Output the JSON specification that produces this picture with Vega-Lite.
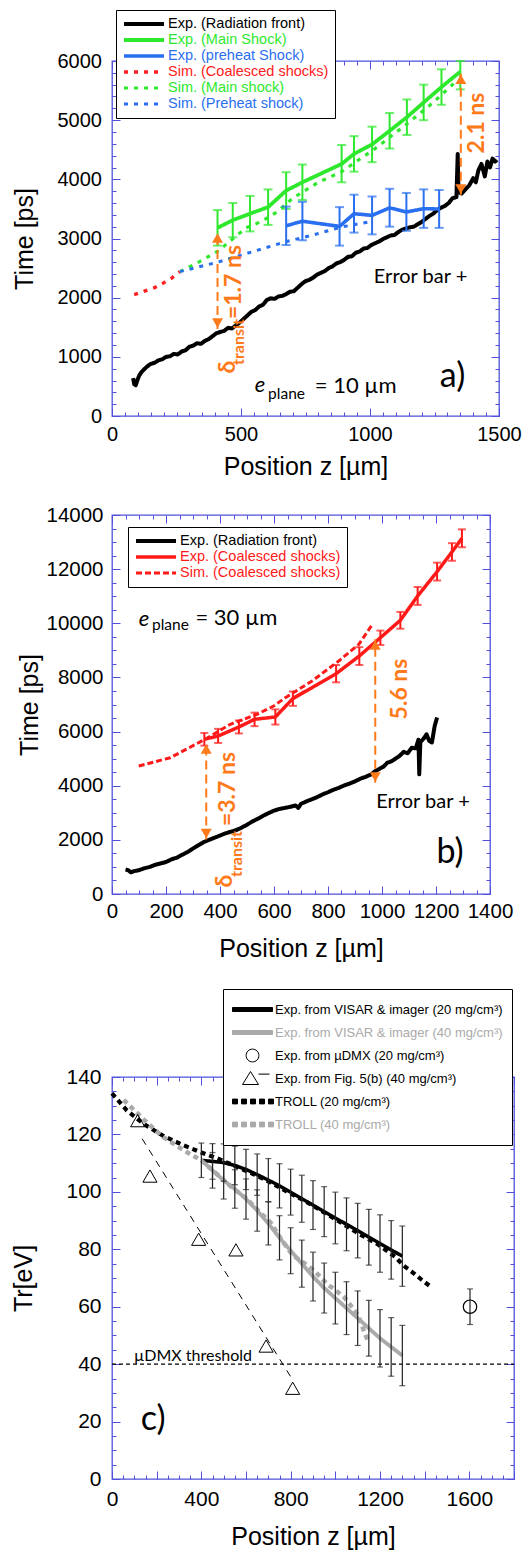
{
"$schema": "https://vega.github.io/schema/vega-lite/v6.json",
"background": "white",
"padding": {"left": 10, "top": 8, "right": 0, "bottom": 0},
"autosize": {"type": "pad"},
"spacing": 24,
"resolve": {"scale": {"color": "independent", "strokeDash": "independent", "strokeWidth": "independent"}},
"config": {
  "view": {"stroke": "#5050dd", "strokeWidth": 1.3},
  "axis": {"labelFont": "Liberation Sans", "titleFont": "Liberation Sans", "labelColor": "black", "titleColor": "black", "titleFontWeight": "normal", "tickColor": "#5050dd", "tickWidth": 1, "domain": false, "grid": false, "labelFlush": false, "labelOverlap": false, "labelFontSize": 20, "titleFontSize": 25}
},
"vconcat": [
{
  "width": 387, "height": 355,
  "encoding": {
    "x": {"field": "z", "type": "quantitative", "scale": {"domain": [0, 1500], "nice": false}, "axis": null},
    "y": {"field": "t", "type": "quantitative", "scale": {"domain": [0, 6000], "nice": false}, "axis": null}
  },
  "resolve": {"axis": {"x": "independent", "y": "independent"}},
  "layer": [
    {
      "data": {"values": [
        {"s":"Exp. (Radiation front)","z":82,"t":640},{"s":"Exp. (Radiation front)","z":86,"t":540},{"s":"Exp. (Radiation front)","z":92,"t":520},{"s":"Exp. (Radiation front)","z":98,"t":600},{"s":"Exp. (Radiation front)","z":105,"t":680},{"s":"Exp. (Radiation front)","z":114,"t":740},{"s":"Exp. (Radiation front)","z":125,"t":790},{"s":"Exp. (Radiation front)","z":137,"t":840},{"s":"Exp. (Radiation front)","z":150,"t":880},{"s":"Exp. (Radiation front)","z":165,"t":900},{"s":"Exp. (Radiation front)","z":180,"t":940},{"s":"Exp. (Radiation front)","z":195,"t":960},{"s":"Exp. (Radiation front)","z":210,"t":1000},{"s":"Exp. (Radiation front)","z":225,"t":1010},{"s":"Exp. (Radiation front)","z":240,"t":1050},{"s":"Exp. (Radiation front)","z":255,"t":1040},{"s":"Exp. (Radiation front)","z":270,"t":1090},{"s":"Exp. (Radiation front)","z":285,"t":1110},{"s":"Exp. (Radiation front)","z":300,"t":1170},{"s":"Exp. (Radiation front)","z":315,"t":1190},{"s":"Exp. (Radiation front)","z":330,"t":1230},{"s":"Exp. (Radiation front)","z":345,"t":1220},{"s":"Exp. (Radiation front)","z":360,"t":1270},{"s":"Exp. (Radiation front)","z":375,"t":1300},{"s":"Exp. (Radiation front)","z":390,"t":1350},{"s":"Exp. (Radiation front)","z":405,"t":1400},{"s":"Exp. (Radiation front)","z":420,"t":1420},{"s":"Exp. (Radiation front)","z":435,"t":1440},{"s":"Exp. (Radiation front)","z":450,"t":1490},{"s":"Exp. (Radiation front)","z":465,"t":1480},{"s":"Exp. (Radiation front)","z":480,"t":1530},{"s":"Exp. (Radiation front)","z":495,"t":1580},{"s":"Exp. (Radiation front)","z":510,"t":1640},{"s":"Exp. (Radiation front)","z":525,"t":1700},{"s":"Exp. (Radiation front)","z":540,"t":1760},{"s":"Exp. (Radiation front)","z":555,"t":1790},{"s":"Exp. (Radiation front)","z":570,"t":1850},{"s":"Exp. (Radiation front)","z":585,"t":1880},{"s":"Exp. (Radiation front)","z":600,"t":1960},{"s":"Exp. (Radiation front)","z":615,"t":1990},{"s":"Exp. (Radiation front)","z":630,"t":1980},{"s":"Exp. (Radiation front)","z":645,"t":2020},{"s":"Exp. (Radiation front)","z":660,"t":2030},{"s":"Exp. (Radiation front)","z":675,"t":2060},{"s":"Exp. (Radiation front)","z":690,"t":2100},{"s":"Exp. (Radiation front)","z":705,"t":2110},{"s":"Exp. (Radiation front)","z":720,"t":2170},{"s":"Exp. (Radiation front)","z":735,"t":2230},{"s":"Exp. (Radiation front)","z":750,"t":2280},{"s":"Exp. (Radiation front)","z":765,"t":2300},{"s":"Exp. (Radiation front)","z":780,"t":2340},{"s":"Exp. (Radiation front)","z":795,"t":2390},{"s":"Exp. (Radiation front)","z":810,"t":2420},{"s":"Exp. (Radiation front)","z":825,"t":2450},{"s":"Exp. (Radiation front)","z":840,"t":2500},{"s":"Exp. (Radiation front)","z":855,"t":2530},{"s":"Exp. (Radiation front)","z":870,"t":2580},{"s":"Exp. (Radiation front)","z":885,"t":2600},{"s":"Exp. (Radiation front)","z":900,"t":2640},{"s":"Exp. (Radiation front)","z":915,"t":2690},{"s":"Exp. (Radiation front)","z":930,"t":2700},{"s":"Exp. (Radiation front)","z":945,"t":2760},{"s":"Exp. (Radiation front)","z":960,"t":2780},{"s":"Exp. (Radiation front)","z":975,"t":2830},{"s":"Exp. (Radiation front)","z":990,"t":2840},{"s":"Exp. (Radiation front)","z":1005,"t":2890},{"s":"Exp. (Radiation front)","z":1020,"t":2920},{"s":"Exp. (Radiation front)","z":1035,"t":2950},{"s":"Exp. (Radiation front)","z":1050,"t":2990},{"s":"Exp. (Radiation front)","z":1065,"t":3020},{"s":"Exp. (Radiation front)","z":1080,"t":3050},{"s":"Exp. (Radiation front)","z":1095,"t":3060},{"s":"Exp. (Radiation front)","z":1110,"t":3110},{"s":"Exp. (Radiation front)","z":1125,"t":3150},{"s":"Exp. (Radiation front)","z":1140,"t":3170},{"s":"Exp. (Radiation front)","z":1155,"t":3190},{"s":"Exp. (Radiation front)","z":1170,"t":3200},{"s":"Exp. (Radiation front)","z":1185,"t":3240},{"s":"Exp. (Radiation front)","z":1200,"t":3280},{"s":"Exp. (Radiation front)","z":1215,"t":3330},{"s":"Exp. (Radiation front)","z":1230,"t":3380},{"s":"Exp. (Radiation front)","z":1245,"t":3420},{"s":"Exp. (Radiation front)","z":1260,"t":3480},{"s":"Exp. (Radiation front)","z":1275,"t":3520},{"s":"Exp. (Radiation front)","z":1290,"t":3550},{"s":"Exp. (Radiation front)","z":1305,"t":3600},{"s":"Exp. (Radiation front)","z":1320,"t":3680},{"s":"Exp. (Radiation front)","z":1335,"t":3700},{"s":"Exp. (Radiation front)","z":1340,"t":4430},{"s":"Exp. (Radiation front)","z":1343,"t":3780},{"s":"Exp. (Radiation front)","z":1355,"t":3760},{"s":"Exp. (Radiation front)","z":1370,"t":3830},{"s":"Exp. (Radiation front)","z":1385,"t":3900},{"s":"Exp. (Radiation front)","z":1400,"t":4020},{"s":"Exp. (Radiation front)","z":1410,"t":3950},{"s":"Exp. (Radiation front)","z":1420,"t":4150},{"s":"Exp. (Radiation front)","z":1432,"t":4260},{"s":"Exp. (Radiation front)","z":1445,"t":4050},{"s":"Exp. (Radiation front)","z":1455,"t":4300},{"s":"Exp. (Radiation front)","z":1465,"t":4200},{"s":"Exp. (Radiation front)","z":1475,"t":4350},{"s":"Exp. (Radiation front)","z":1485,"t":4300},{"s":"Exp. (Radiation front)","z":1492,"t":4330},
        {"s":"Exp. (Main Shock)","z":409,"t":3180},{"s":"Exp. (Main Shock)","z":468,"t":3310},{"s":"Exp. (Main Shock)","z":535,"t":3420},{"s":"Exp. (Main Shock)","z":605,"t":3530},{"s":"Exp. (Main Shock)","z":675,"t":3810},{"s":"Exp. (Main Shock)","z":738,"t":3950},{"s":"Exp. (Main Shock)","z":890,"t":4260},{"s":"Exp. (Main Shock)","z":938,"t":4430},{"s":"Exp. (Main Shock)","z":1008,"t":4590},{"s":"Exp. (Main Shock)","z":1076,"t":4820},{"s":"Exp. (Main Shock)","z":1143,"t":5050},{"s":"Exp. (Main Shock)","z":1208,"t":5300},{"s":"Exp. (Main Shock)","z":1277,"t":5560},{"s":"Exp. (Main Shock)","z":1350,"t":5820},
        {"s":"Exp. (preheat Shock)","z":675,"t":3215},{"s":"Exp. (preheat Shock)","z":738,"t":3292},{"s":"Exp. (preheat Shock)","z":882,"t":3205},{"s":"Exp. (preheat Shock)","z":938,"t":3419},{"s":"Exp. (preheat Shock)","z":1008,"t":3391},{"s":"Exp. (preheat Shock)","z":1076,"t":3518},{"s":"Exp. (preheat Shock)","z":1141,"t":3448},{"s":"Exp. (preheat Shock)","z":1208,"t":3504},{"s":"Exp. (preheat Shock)","z":1268,"t":3498},
        {"s":"Sim. (Coalesced shocks)","z":86,"t":2050},{"s":"Sim. (Coalesced shocks)","z":126,"t":2112},{"s":"Sim. (Coalesced shocks)","z":166,"t":2170},{"s":"Sim. (Coalesced shocks)","z":200,"t":2250},{"s":"Sim. (Coalesced shocks)","z":231,"t":2330},{"s":"Sim. (Coalesced shocks)","z":263,"t":2440},
        {"s":"Sim. (Main shock)","z":263,"t":2440},{"s":"Sim. (Main shock)","z":340,"t":2610},{"s":"Sim. (Main shock)","z":412,"t":2790},{"s":"Sim. (Main shock)","z":470,"t":3000},{"s":"Sim. (Main shock)","z":520,"t":3180},{"s":"Sim. (Main shock)","z":580,"t":3290},{"s":"Sim. (Main shock)","z":640,"t":3450},{"s":"Sim. (Main shock)","z":700,"t":3680},{"s":"Sim. (Main shock)","z":800,"t":3950},{"s":"Sim. (Main shock)","z":890,"t":4130},{"s":"Sim. (Main shock)","z":1020,"t":4520},{"s":"Sim. (Main shock)","z":1135,"t":4910},{"s":"Sim. (Main shock)","z":1240,"t":5280},{"s":"Sim. (Main shock)","z":1342,"t":5690},
        {"s":"Sim. (Preheat shock)","z":263,"t":2440},{"s":"Sim. (Preheat shock)","z":412,"t":2603},{"s":"Sim. (Preheat shock)","z":541,"t":2772},{"s":"Sim. (Preheat shock)","z":670,"t":2941},{"s":"Sim. (Preheat shock)","z":780,"t":3060},{"s":"Sim. (Preheat shock)","z":889,"t":3194},{"s":"Sim. (Preheat shock)","z":1008,"t":3290}
      ]},
      "mark": {"type": "line", "strokeCap": "butt", "strokeJoin": "round"},
      "encoding": {
        "x": {"field": "z", "type": "quantitative", "scale": {"domain": [0, 1500], "nice": false},
          "axis": {"orient": "bottom", "values": [0,50,100,150,200,250,300,350,400,450,500,550,600,650,700,750,800,850,900,950,1000,1050,1100,1150,1200,1250,1300,1350,1400,1450,1500], "format": "d", "labelExpr": "datum.value % 500 === 0 ? datum.label : ''", "tickSize": {"condition": {"test": "datum.value % 500 === 0", "value": -8}, "value": -4}, "labelPadding": 16, "labelFontSize": 20, "title": "Position z [µm]", "titlePadding": 6}},
        "y": {"field": "t", "type": "quantitative", "scale": {"domain": [0, 6000], "nice": false},
          "axis": {"orient": "left", "values": [0,200,400,600,800,1000,1200,1400,1600,1800,2000,2200,2400,2600,2800,3000,3200,3400,3600,3800,4000,4200,4400,4600,4800,5000,5200,5400,5600,5800,6000], "format": "d", "labelExpr": "datum.value % 1000 === 0 ? datum.label : ''", "tickSize": {"condition": {"test": "datum.value % 1000 === 0", "value": -8}, "value": -4}, "labelPadding": 18.5, "labelFontSize": 20, "title": "Time [ps]", "titleX": -75}},
        "color": {"field": "s", "type": "nominal",
          "scale": {"domain": ["Exp. (Radiation front)", "Exp. (Main Shock)", "Exp. (preheat Shock)", "Sim. (Coalesced shocks)", "Sim. (Main shock)", "Sim. (Preheat shock)"], "range": ["#000000", "#2ee82e", "#2a6ff0", "#ff2020", "#2ee82e", "#2a6ff0"]},
          "legend": {"orient": "none", "legendX": 4, "legendY": -51, "title": null, "symbolType": "stroke", "symbolSize": 1600, "symbolStrokeWidth": 4, "clipHeight": 16, "rowPadding": 0, "padding": 6, "labelOffset": 2, "labelFont": "Liberation Sans", "labelFontSize": 14.5, "labelLimit": 400, "strokeColor": "black", "fillColor": "white",
            "encoding": {
              "labels": {"fill": {"condition": [{"test": "indexof(datum.value, 'Main') >= 0", "value": "#2ee82e"}, {"test": "indexof(lower(datum.value), 'preheat') >= 0", "value": "#2a6ff0"}, {"test": "indexof(datum.value, 'Coalesced') >= 0", "value": "#ff2020"}], "value": "black"}},
              "symbols": {"strokeDash": {"condition": {"test": "indexof(datum.value, 'Sim.') === 0", "value": [5, 3]}, "value": [1, 0]}, "strokeWidth": {"value": 4}}
            }}},
        "strokeDash": {"field": "s", "type": "nominal", "scale": {"domain": ["Exp. (Radiation front)", "Exp. (Main Shock)", "Exp. (preheat Shock)", "Sim. (Coalesced shocks)", "Sim. (Main shock)", "Sim. (Preheat shock)"], "range": [[1,0],[1,0],[1,0],[4,6],[4,6],[4,6]]}, "legend": null},
        "strokeWidth": {"field": "s", "type": "ordinal", "scale": {"domain": ["Exp. (Radiation front)", "Exp. (Main Shock)", "Exp. (preheat Shock)", "Sim. (Coalesced shocks)", "Sim. (Main shock)", "Sim. (Preheat shock)"], "range": [4, 3, 3, 4, 4, 4]}, "legend": null}
      }
    },
    {
      "data": {"values": [
        {"z":409,"lo":2880,"hi":3480},{"z":468,"lo":3020,"hi":3600},{"z":535,"lo":3120,"hi":3720},{"z":605,"lo":3230,"hi":3830},{"z":675,"lo":3500,"hi":4120},{"z":738,"lo":3650,"hi":4250},{"z":890,"lo":3950,"hi":4580},{"z":938,"lo":4130,"hi":4730},{"z":1008,"lo":4290,"hi":4890},{"z":1076,"lo":4520,"hi":5120},{"z":1143,"lo":4750,"hi":5350},{"z":1208,"lo":5000,"hi":5600},{"z":1277,"lo":5260,"hi":5860},{"z":1350,"lo":5520,"hi":6000}
      ]},
      "mark": {"type": "errorbar", "ticks": {"size": 9}, "thickness": 2, "color": "#2ee82e"},
      "encoding": {"y": {"field": "lo", "type": "quantitative", "scale": {"domain": [0, 6000], "nice": false}, "axis": null}, "y2": {"field": "hi"}}
    },
    {
      "data": {"values": [
        {"z":675,"lo":2890,"hi":3540},{"z":738,"lo":2970,"hi":3620},{"z":882,"lo":2880,"hi":3530},{"z":938,"lo":3100,"hi":3740},{"z":1008,"lo":3070,"hi":3710},{"z":1076,"lo":3200,"hi":3840},{"z":1141,"lo":3130,"hi":3770},{"z":1208,"lo":3180,"hi":3830},{"z":1268,"lo":3180,"hi":3820}
      ]},
      "mark": {"type": "errorbar", "ticks": {"size": 9}, "thickness": 2, "color": "#2a6ff0"},
      "encoding": {"y": {"field": "lo", "type": "quantitative", "scale": {"domain": [0, 6000], "nice": false}, "axis": null}, "y2": {"field": "hi"}}
    },
    {
      "data": {"values": [{"z":409,"t":1470,"t2":3100},{"z":1352,"t":3740,"t2":5790}]},
      "mark": {"type": "rule", "color": "#ff7a1a", "strokeWidth": 2, "strokeDash": [9, 5]},
      "encoding": {
        "x": {"field": "z", "type": "quantitative", "scale": {"domain": [0, 1500], "nice": false},
          "axis": {"orient": "top", "values": [0,50,100,150,200,250,300,350,400,450,500,550,600,650,700,750,800,850,900,950,1000,1050,1100,1150,1200,1250,1300,1350,1400,1450,1500], "labels": false, "title": null, "tickSize": {"condition": {"test": "datum.value % 500 === 0", "value": -8}, "value": -4}}},
        "y": {"field": "t", "type": "quantitative", "scale": {"domain": [0, 6000], "nice": false},
          "axis": {"orient": "right", "values": [0,200,400,600,800,1000,1200,1400,1600,1800,2000,2200,2400,2600,2800,3000,3200,3400,3600,3800,4000,4200,4400,4600,4800,5000,5200,5400,5600,5800,6000], "labels": false, "title": null, "tickSize": {"condition": {"test": "datum.value % 1000 === 0", "value": -8}, "value": -4}}},
        "y2": {"field": "t2"}
      }
    },
    {
      "data": {"values": [{"z":409,"t":3008,"dir":"up"},{"z":409,"t":1572,"dir":"down"},{"z":1352,"t":5690,"dir":"up"},{"z":1352,"t":3836,"dir":"down"}]},
      "mark": {"type": "point", "filled": true, "size": 120, "color": "#ff7a1a", "opacity": 1},
      "encoding": {"shape": {"field": "dir", "type": "nominal", "scale": {"domain": ["up", "down"], "range": ["triangle-up", "triangle-down"]}, "legend": null}}
    },
    {
      "data": {"values": [{"z":471,"t":2265,"label":"=1.7 ns"},{"z":1413,"t":4952,"label":"2.1 ns"},{"z":448,"t":828,"label":"δ"}]},
      "mark": {"type": "text", "font": "Lato", "fontSize": 23, "fontWeight": "bold", "color": "#ff7a1a", "angle": 270, "align": "center", "baseline": "middle"},
      "encoding": {"text": {"field": "label"}}
    },
    {
      "data": {"values": [{"z":494,"t":1250,"label":"transit"}]},
      "mark": {"type": "text", "font": "Lato", "fontSize": 16, "fontWeight": "bold", "color": "#ff7a1a", "angle": 270, "align": "center", "baseline": "middle"},
      "encoding": {"text": {"field": "label"}}
    },
    {
      "data": {"values": [{"z":1196,"t":2350,"label":"Error bar +"}]},
      "mark": {"type": "text", "font": "Lato", "fontSize": 20, "color": "black", "align": "center", "baseline": "middle"},
      "encoding": {"text": {"field": "label"}}
    },
    {
      "data": {"values": [{"z":1320,"t":659,"label":"a)"}]},
      "mark": {"type": "text", "font": "Lato", "fontSize": 34, "color": "black", "align": "center", "baseline": "middle"},
      "encoding": {"text": {"field": "label"}}
    },
    {
      "data": {"values": [{"z":553,"t":406,"label":"e"}]},
      "mark": {"type": "text", "font": "Lato", "fontSize": 22, "fontStyle": "italic", "color": "black", "align": "left", "baseline": "alphabetic"},
      "encoding": {"text": {"field": "label"}}
    },
    {
      "data": {"values": [{"z":605,"t":293,"label":"plane"}]},
      "mark": {"type": "text", "font": "Lato", "fontSize": 15.5, "color": "black", "align": "left", "baseline": "alphabetic"},
      "encoding": {"text": {"field": "label"}}
    },
    {
      "data": {"values": [{"z":786,"t":385,"label":"= 10 µm"}]},
      "mark": {"type": "text", "font": "Lato", "fontSize": 22, "color": "black", "align": "left", "baseline": "alphabetic"},
      "encoding": {"text": {"field": "label"}}
    }
  ]
},
{
  "width": 378, "height": 379,
  "encoding": {
    "x": {"field": "z", "type": "quantitative", "scale": {"domain": [0, 1400], "nice": false}, "axis": null},
    "y": {"field": "t", "type": "quantitative", "scale": {"domain": [0, 14000], "nice": false}, "axis": null}
  },
  "resolve": {"axis": {"x": "independent", "y": "independent"}},
  "layer": [
    {
      "data": {"values": [
        {"s":"Exp. (Radiation front)","z":50,"t":900},{"s":"Exp. (Radiation front)","z":60,"t":880},{"s":"Exp. (Radiation front)","z":70,"t":800},{"s":"Exp. (Radiation front)","z":80,"t":840},{"s":"Exp. (Radiation front)","z":100,"t":880},{"s":"Exp. (Radiation front)","z":120,"t":950},{"s":"Exp. (Radiation front)","z":140,"t":1000},{"s":"Exp. (Radiation front)","z":160,"t":1080},{"s":"Exp. (Radiation front)","z":180,"t":1130},{"s":"Exp. (Radiation front)","z":200,"t":1180},{"s":"Exp. (Radiation front)","z":220,"t":1280},{"s":"Exp. (Radiation front)","z":240,"t":1340},{"s":"Exp. (Radiation front)","z":260,"t":1450},{"s":"Exp. (Radiation front)","z":280,"t":1550},{"s":"Exp. (Radiation front)","z":300,"t":1680},{"s":"Exp. (Radiation front)","z":320,"t":1800},{"s":"Exp. (Radiation front)","z":340,"t":1920},{"s":"Exp. (Radiation front)","z":360,"t":2000},{"s":"Exp. (Radiation front)","z":380,"t":2080},{"s":"Exp. (Radiation front)","z":400,"t":2160},{"s":"Exp. (Radiation front)","z":420,"t":2240},{"s":"Exp. (Radiation front)","z":440,"t":2300},{"s":"Exp. (Radiation front)","z":460,"t":2360},{"s":"Exp. (Radiation front)","z":480,"t":2450},{"s":"Exp. (Radiation front)","z":500,"t":2560},{"s":"Exp. (Radiation front)","z":520,"t":2680},{"s":"Exp. (Radiation front)","z":540,"t":2780},{"s":"Exp. (Radiation front)","z":560,"t":2890},{"s":"Exp. (Radiation front)","z":580,"t":2990},{"s":"Exp. (Radiation front)","z":600,"t":3080},{"s":"Exp. (Radiation front)","z":620,"t":3140},{"s":"Exp. (Radiation front)","z":640,"t":3180},{"s":"Exp. (Radiation front)","z":660,"t":3220},{"s":"Exp. (Radiation front)","z":680,"t":3270},{"s":"Exp. (Radiation front)","z":690,"t":3180},{"s":"Exp. (Radiation front)","z":700,"t":3330},{"s":"Exp. (Radiation front)","z":720,"t":3420},{"s":"Exp. (Radiation front)","z":740,"t":3500},{"s":"Exp. (Radiation front)","z":760,"t":3580},{"s":"Exp. (Radiation front)","z":780,"t":3680},{"s":"Exp. (Radiation front)","z":800,"t":3760},{"s":"Exp. (Radiation front)","z":820,"t":3850},{"s":"Exp. (Radiation front)","z":840,"t":3920},{"s":"Exp. (Radiation front)","z":860,"t":4010},{"s":"Exp. (Radiation front)","z":880,"t":4080},{"s":"Exp. (Radiation front)","z":900,"t":4160},{"s":"Exp. (Radiation front)","z":920,"t":4260},{"s":"Exp. (Radiation front)","z":940,"t":4330},{"s":"Exp. (Radiation front)","z":960,"t":4420},{"s":"Exp. (Radiation front)","z":975,"t":4540},{"s":"Exp. (Radiation front)","z":990,"t":4620},{"s":"Exp. (Radiation front)","z":1005,"t":4700},{"s":"Exp. (Radiation front)","z":1020,"t":4850},{"s":"Exp. (Radiation front)","z":1035,"t":4900},{"s":"Exp. (Radiation front)","z":1050,"t":5000},{"s":"Exp. (Radiation front)","z":1065,"t":5100},{"s":"Exp. (Radiation front)","z":1080,"t":5250},{"s":"Exp. (Radiation front)","z":1095,"t":5200},{"s":"Exp. (Radiation front)","z":1110,"t":5400},{"s":"Exp. (Radiation front)","z":1125,"t":5380},{"s":"Exp. (Radiation front)","z":1135,"t":5700},{"s":"Exp. (Radiation front)","z":1138,"t":4420},{"s":"Exp. (Radiation front)","z":1142,"t":5600},{"s":"Exp. (Radiation front)","z":1155,"t":5750},{"s":"Exp. (Radiation front)","z":1165,"t":5900},{"s":"Exp. (Radiation front)","z":1175,"t":5650},{"s":"Exp. (Radiation front)","z":1185,"t":5600},{"s":"Exp. (Radiation front)","z":1195,"t":6200},{"s":"Exp. (Radiation front)","z":1204,"t":6520},
        {"s":"Exp. (Coalesced shocks)","z":342,"t":5714},{"s":"Exp. (Coalesced shocks)","z":393,"t":5836},{"s":"Exp. (Coalesced shocks)","z":470,"t":6169},{"s":"Exp. (Coalesced shocks)","z":528,"t":6453},{"s":"Exp. (Coalesced shocks)","z":605,"t":6538},{"s":"Exp. (Coalesced shocks)","z":670,"t":7220},{"s":"Exp. (Coalesced shocks)","z":830,"t":8138},{"s":"Exp. (Coalesced shocks)","z":916,"t":8792},{"s":"Exp. (Coalesced shocks)","z":994,"t":9468},{"s":"Exp. (Coalesced shocks)","z":1068,"t":10111},{"s":"Exp. (Coalesced shocks)","z":1132,"t":11008},{"s":"Exp. (Coalesced shocks)","z":1204,"t":11906},{"s":"Exp. (Coalesced shocks)","z":1259,"t":12634},{"s":"Exp. (Coalesced shocks)","z":1296,"t":13140},
        {"s":"Sim. (Coalesced shocks)","z":99,"t":4728},{"s":"Sim. (Coalesced shocks)","z":216,"t":5035},{"s":"Sim. (Coalesced shocks)","z":342,"t":5700},{"s":"Sim. (Coalesced shocks)","z":438,"t":6268},{"s":"Sim. (Coalesced shocks)","z":537,"t":6637},{"s":"Sim. (Coalesced shocks)","z":599,"t":6945},{"s":"Sim. (Coalesced shocks)","z":642,"t":7252},{"s":"Sim. (Coalesced shocks)","z":741,"t":7868},{"s":"Sim. (Coalesced shocks)","z":840,"t":8607},{"s":"Sim. (Coalesced shocks)","z":914,"t":9223},{"s":"Sim. (Coalesced shocks)","z":963,"t":9937}
      ]},
      "mark": {"type": "line", "strokeCap": "butt", "strokeJoin": "round"},
      "encoding": {
        "x": {"field": "z", "type": "quantitative", "scale": {"domain": [0, 1400], "nice": false},
          "axis": {"orient": "bottom", "values": [0,50,100,150,200,250,300,350,400,450,500,550,600,650,700,750,800,850,900,950,1000,1050,1100,1150,1200,1250,1300,1350,1400], "format": "d", "labelExpr": "datum.value % 200 === 0 ? datum.label : ''", "tickSize": {"condition": {"test": "datum.value % 200 === 0", "value": -8}, "value": -4}, "labelPadding": 15, "labelFontSize": 20.5, "title": "Position z [µm]", "titlePadding": 11}},
        "y": {"field": "t", "type": "quantitative", "scale": {"domain": [0, 14000], "nice": false},
          "axis": {"orient": "left", "values": [0,500,1000,1500,2000,2500,3000,3500,4000,4500,5000,5500,6000,6500,7000,7500,8000,8500,9000,9500,10000,10500,11000,11500,12000,12500,13000,13500,14000], "format": "d", "labelExpr": "datum.value % 2000 === 0 ? datum.label : ''", "tickSize": {"condition": {"test": "datum.value % 2000 === 0", "value": -8}, "value": -4}, "labelPadding": 17, "labelFontSize": 20.5, "title": "Time [ps]", "titleX": -70}},
        "color": {"field": "s", "type": "nominal",
          "scale": {"domain": ["Exp. (Radiation front)", "Exp. (Coalesced shocks)", "Sim. (Coalesced shocks)"], "range": ["#000000", "#ff1a1a", "#ff1a1a"]},
          "legend": {"orient": "none", "legendX": 16, "legendY": 12, "title": null, "symbolType": "stroke", "symbolSize": 1600, "symbolStrokeWidth": 4, "clipHeight": 16, "rowPadding": 0, "padding": 6, "labelOffset": 2, "labelFont": "Liberation Sans", "labelFontSize": 14.5, "labelLimit": 400, "strokeColor": "black", "fillColor": "white",
            "encoding": {
              "labels": {"fill": {"condition": {"test": "indexof(datum.value, 'Coalesced') >= 0", "value": "#ff1a1a"}, "value": "black"}},
              "symbols": {"strokeDash": {"condition": {"test": "indexof(datum.value, 'Sim.') === 0", "value": [6, 2]}, "value": [1, 0]}, "strokeWidth": {"value": 4}}
            }}},
        "strokeDash": {"field": "s", "type": "nominal", "scale": {"domain": ["Exp. (Radiation front)", "Exp. (Coalesced shocks)", "Sim. (Coalesced shocks)"], "range": [[1,0],[1,0],[6,3]]}, "legend": null},
        "strokeWidth": {"field": "s", "type": "ordinal", "scale": {"domain": ["Exp. (Radiation front)", "Exp. (Coalesced shocks)", "Sim. (Coalesced shocks)"], "range": [4, 3, 3.5]}, "legend": null}
      }
    },
    {
      "data": {"values": [
        {"z":342,"lo":5480,"hi":5950},{"z":393,"lo":5580,"hi":6100},{"z":470,"lo":5930,"hi":6410},{"z":528,"lo":6200,"hi":6700},{"z":605,"lo":6260,"hi":6820},{"z":670,"lo":6950,"hi":7480},{"z":830,"lo":7820,"hi":8460},{"z":916,"lo":8460,"hi":9120},{"z":994,"lo":9200,"hi":9730},{"z":1068,"lo":9800,"hi":10420},{"z":1132,"lo":10680,"hi":11340},{"z":1204,"lo":11580,"hi":12240},{"z":1259,"lo":12310,"hi":12960},{"z":1296,"lo":12810,"hi":13470}
      ]},
      "mark": {"type": "errorbar", "ticks": {"size": 8}, "thickness": 2, "color": "#ff1a1a"},
      "encoding": {"y": {"field": "lo", "type": "quantitative", "scale": {"domain": [0, 14000], "nice": false}, "axis": null}, "y2": {"field": "hi"}}
    },
    {
      "data": {"values": [{"z":349,"t":2010,"t2":5560},{"z":975,"t":4110,"t2":9410}]},
      "mark": {"type": "rule", "color": "#ff7a1a", "strokeWidth": 2, "strokeDash": [9, 5]},
      "encoding": {
        "x": {"field": "z", "type": "quantitative", "scale": {"domain": [0, 1400], "nice": false},
          "axis": {"orient": "top", "values": [0,50,100,150,200,250,300,350,400,450,500,550,600,650,700,750,800,850,900,950,1000,1050,1100,1150,1200,1250,1300,1350,1400], "labels": false, "title": null, "tickSize": {"condition": {"test": "datum.value % 200 === 0", "value": -8}, "value": -4}}},
        "y": {"field": "t", "type": "quantitative", "scale": {"domain": [0, 14000], "nice": false},
          "axis": {"orient": "right", "values": [0,500,1000,1500,2000,2500,3000,3500,4000,4500,5000,5500,6000,6500,7000,7500,8000,8500,9000,9500,10000,10500,11000,11500,12000,12500,13000,13500,14000], "labels": false, "title": null, "tickSize": {"condition": {"test": "datum.value % 2000 === 0", "value": -8}, "value": -4}}},
        "y2": {"field": "t2"}
      }
    },
    {
      "data": {"values": [{"z":349,"t":5356,"dir":"up"},{"z":349,"t":2235,"dir":"down"},{"z":975,"t":9198,"dir":"up"},{"z":975,"t":4322,"dir":"down"}]},
      "mark": {"type": "point", "filled": true, "size": 120, "color": "#ff7a1a", "opacity": 1},
      "encoding": {"shape": {"field": "dir", "type": "nominal", "scale": {"domain": ["up", "down"], "range": ["triangle-up", "triangle-down"]}, "legend": null}}
    },
    {
      "data": {"values": [{"z":428,"t":3878,"label":"=3.7 ns"},{"z":1065,"t":7573,"label":"5.6 ns"},{"z":419,"t":480,"label":"δ"}]},
      "mark": {"type": "text", "font": "Lato", "fontSize": 23, "fontWeight": "bold", "color": "#ff7a1a", "angle": 270, "align": "center", "baseline": "middle"},
      "encoding": {"text": {"field": "label"}}
    },
    {
      "data": {"values": [{"z":463,"t":1478,"label":"transit"}]},
      "mark": {"type": "text", "font": "Lato", "fontSize": 16, "fontWeight": "bold", "color": "#ff7a1a", "angle": 270, "align": "center", "baseline": "middle"},
      "encoding": {"text": {"field": "label"}}
    },
    {
      "data": {"values": [{"z":1152,"t":3400,"label":"Error bar +"}]},
      "mark": {"type": "text", "font": "Lato", "fontSize": 20, "color": "black", "align": "center", "baseline": "middle"},
      "encoding": {"text": {"field": "label"}}
    },
    {
      "data": {"values": [{"z":1252,"t":1515,"label":"b)"}]},
      "mark": {"type": "text", "font": "Lato", "fontSize": 34, "color": "black", "align": "center", "baseline": "middle"},
      "encoding": {"text": {"field": "label"}}
    },
    {
      "data": {"values": [{"z":99,"t":9900,"label":"e"}]},
      "mark": {"type": "text", "font": "Lato", "fontSize": 22, "fontStyle": "italic", "color": "black", "align": "left", "baseline": "alphabetic"},
      "encoding": {"text": {"field": "label"}}
    },
    {
      "data": {"values": [{"z":148,"t":9740,"label":"plane"}]},
      "mark": {"type": "text", "font": "Lato", "fontSize": 15.5, "color": "black", "align": "left", "baseline": "alphabetic"},
      "encoding": {"text": {"field": "label"}}
    },
    {
      "data": {"values": [{"z":309,"t":9925,"label":"= 30 µm"}]},
      "mark": {"type": "text", "font": "Lato", "fontSize": 22, "color": "black", "align": "left", "baseline": "alphabetic"},
      "encoding": {"text": {"field": "label"}}
    }
  ]
},
{
  "width": 402, "height": 402,
  "encoding": {
    "x": {"field": "z", "type": "quantitative", "scale": {"domain": [0, 1800], "nice": false}, "axis": null},
    "y": {"field": "T", "type": "quantitative", "scale": {"domain": [0, 140], "nice": false}, "axis": null}
  },
  "resolve": {"axis": {"x": "independent", "y": "independent"}},
  "layer": [
    {
      "data": {"values": [{"z": 0, "z2": 1800, "T": 40}]},
      "mark": {"type": "rule", "color": "black", "strokeWidth": 1.3, "strokeDash": [4, 3]},
      "encoding": {"x": {"field": "z", "type": "quantitative", "scale": {"domain": [0, 1800], "nice": false}, "axis": null}, "x2": {"field": "z2"}}
    },
    {
      "data": {"values": [{"z":135,"T":118.5},{"z":805,"T":35}]},
      "mark": {"type": "line", "color": "black", "strokeWidth": 1, "strokeDash": [7, 6]},
      "encoding": {}
    },
    {
      "data": {"values": [
        {"s":"TROLL (20 mg/cm³)","z":0,"T":134.3},{"s":"TROLL (20 mg/cm³)","z":67,"T":128.3},{"s":"TROLL (20 mg/cm³)","z":145,"T":123.5},{"s":"TROLL (20 mg/cm³)","z":227,"T":119.6},{"s":"TROLL (20 mg/cm³)","z":309,"T":116.6},{"s":"TROLL (20 mg/cm³)","z":391,"T":114.0},{"s":"TROLL (20 mg/cm³)","z":470,"T":111.7},{"s":"TROLL (20 mg/cm³)","z":551,"T":109.0},{"s":"TROLL (20 mg/cm³)","z":630,"T":106.3},{"s":"TROLL (20 mg/cm³)","z":709,"T":103.3},{"s":"TROLL (20 mg/cm³)","z":790,"T":99.8},{"s":"TROLL (20 mg/cm³)","z":869,"T":96.6},{"s":"TROLL (20 mg/cm³)","z":948,"T":92.9},{"s":"TROLL (20 mg/cm³)","z":1029,"T":89.1},{"s":"TROLL (20 mg/cm³)","z":1108,"T":85.3},{"s":"TROLL (20 mg/cm³)","z":1187,"T":81.9},{"s":"TROLL (20 mg/cm³)","z":1267,"T":77.4},{"s":"TROLL (20 mg/cm³)","z":1306,"T":74.3},{"s":"TROLL (20 mg/cm³)","z":1347,"T":71.9},{"s":"TROLL (20 mg/cm³)","z":1388,"T":69.3},{"s":"TROLL (20 mg/cm³)","z":1430,"T":66.8},
        {"s":"TROLL (40 mg/cm³)","z":52,"T":132},{"s":"TROLL (40 mg/cm³)","z":145,"T":125},{"s":"TROLL (40 mg/cm³)","z":227,"T":119.2},{"s":"TROLL (40 mg/cm³)","z":331,"T":114},{"s":"TROLL (40 mg/cm³)","z":400,"T":111},{"s":"TROLL (40 mg/cm³)","z":473,"T":106},{"s":"TROLL (40 mg/cm³)","z":533,"T":101.8},{"s":"TROLL (40 mg/cm³)","z":600,"T":97.8},{"s":"TROLL (40 mg/cm³)","z":660,"T":93.1},{"s":"TROLL (40 mg/cm³)","z":712,"T":89.1},{"s":"TROLL (40 mg/cm³)","z":764,"T":82.7},{"s":"TROLL (40 mg/cm³)","z":809,"T":78.0},{"s":"TROLL (40 mg/cm³)","z":884,"T":73.9},{"s":"TROLL (40 mg/cm³)","z":924,"T":71.1},{"s":"TROLL (40 mg/cm³)","z":963,"T":67.9},{"s":"TROLL (40 mg/cm³)","z":1003,"T":65.6},{"s":"TROLL (40 mg/cm³)","z":1040,"T":63.3},{"s":"TROLL (40 mg/cm³)","z":1073,"T":60.0},{"s":"TROLL (40 mg/cm³)","z":1103,"T":56.9},{"s":"TROLL (40 mg/cm³)","z":1133,"T":50.5},{"s":"TROLL (40 mg/cm³)","z":1149,"T":47.6},
        {"s":"Exp. from VISAR & imager (20 mg/cm³)","z":400,"T":111.0},{"s":"Exp. from VISAR & imager (20 mg/cm³)","z":450,"T":110.6},{"s":"Exp. from VISAR & imager (20 mg/cm³)","z":500,"T":110.2},{"s":"Exp. from VISAR & imager (20 mg/cm³)","z":550,"T":109.2},{"s":"Exp. from VISAR & imager (20 mg/cm³)","z":600,"T":107.8},{"s":"Exp. from VISAR & imager (20 mg/cm³)","z":650,"T":106.0},{"s":"Exp. from VISAR & imager (20 mg/cm³)","z":700,"T":104.1},{"s":"Exp. from VISAR & imager (20 mg/cm³)","z":750,"T":102.1},{"s":"Exp. from VISAR & imager (20 mg/cm³)","z":800,"T":99.9},{"s":"Exp. from VISAR & imager (20 mg/cm³)","z":850,"T":97.6},{"s":"Exp. from VISAR & imager (20 mg/cm³)","z":900,"T":95.4},{"s":"Exp. from VISAR & imager (20 mg/cm³)","z":950,"T":93.1},{"s":"Exp. from VISAR & imager (20 mg/cm³)","z":1000,"T":90.9},{"s":"Exp. from VISAR & imager (20 mg/cm³)","z":1050,"T":88.7},{"s":"Exp. from VISAR & imager (20 mg/cm³)","z":1100,"T":86.5},{"s":"Exp. from VISAR & imager (20 mg/cm³)","z":1150,"T":84.2},{"s":"Exp. from VISAR & imager (20 mg/cm³)","z":1200,"T":82.0},{"s":"Exp. from VISAR & imager (20 mg/cm³)","z":1250,"T":79.8},{"s":"Exp. from VISAR & imager (20 mg/cm³)","z":1300,"T":77.6},
        {"s":"Exp. from VISAR & imager (40 mg/cm³)","z":400,"T":111.0},{"s":"Exp. from VISAR & imager (40 mg/cm³)","z":450,"T":107.5},{"s":"Exp. from VISAR & imager (40 mg/cm³)","z":500,"T":104.0},{"s":"Exp. from VISAR & imager (40 mg/cm³)","z":550,"T":101.0},{"s":"Exp. from VISAR & imager (40 mg/cm³)","z":600,"T":97.5},{"s":"Exp. from VISAR & imager (40 mg/cm³)","z":650,"T":93.5},{"s":"Exp. from VISAR & imager (40 mg/cm³)","z":700,"T":89.0},{"s":"Exp. from VISAR & imager (40 mg/cm³)","z":750,"T":84.0},{"s":"Exp. from VISAR & imager (40 mg/cm³)","z":800,"T":79.5},{"s":"Exp. from VISAR & imager (40 mg/cm³)","z":850,"T":75.0},{"s":"Exp. from VISAR & imager (40 mg/cm³)","z":900,"T":70.5},{"s":"Exp. from VISAR & imager (40 mg/cm³)","z":950,"T":66.5},{"s":"Exp. from VISAR & imager (40 mg/cm³)","z":1000,"T":63.0},{"s":"Exp. from VISAR & imager (40 mg/cm³)","z":1050,"T":59.5},{"s":"Exp. from VISAR & imager (40 mg/cm³)","z":1100,"T":56.0},{"s":"Exp. from VISAR & imager (40 mg/cm³)","z":1150,"T":52.5},{"s":"Exp. from VISAR & imager (40 mg/cm³)","z":1200,"T":49.0},{"s":"Exp. from VISAR & imager (40 mg/cm³)","z":1250,"T":46.0},{"s":"Exp. from VISAR & imager (40 mg/cm³)","z":1300,"T":43.0}
      ]},
      "mark": {"type": "line", "strokeCap": "butt", "strokeJoin": "round"},
      "encoding": {
        "x": {"field": "z", "type": "quantitative", "scale": {"domain": [0, 1800], "nice": false},
          "axis": {"orient": "bottom", "values": [0,50,100,150,200,250,300,350,400,450,500,550,600,650,700,750,800,850,900,950,1000,1050,1100,1150,1200,1250,1300,1350,1400,1450,1500,1550,1600,1650,1700,1750,1800], "format": "d", "labelExpr": "datum.value % 400 === 0 ? datum.label : ''", "tickSize": {"condition": {"test": "datum.value % 200 === 0", "value": -8}, "value": -4}, "labelPadding": 17, "labelFontSize": 21, "title": "Position z [µm]", "titlePadding": 11}},
        "y": {"field": "T", "type": "quantitative", "scale": {"domain": [0, 140], "nice": false},
          "axis": {"orient": "left", "values": [0,5,10,15,20,25,30,35,40,45,50,55,60,65,70,75,80,85,90,95,100,105,110,115,120,125,130,135,140], "format": "d", "labelExpr": "datum.value % 20 === 0 ? datum.label : ''", "tickSize": {"condition": {"test": "datum.value % 20 === 0", "value": -8}, "value": -4}, "labelPadding": 19, "labelFontSize": 21, "title": "Tr[eV]", "titleX": -76}},
        "color": {"field": "s", "type": "nominal",
          "scale": {"domain": ["Exp. from VISAR & imager (20 mg/cm³)", "Exp. from VISAR & imager (40 mg/cm³)", "Exp. from µDMX (20 mg/cm³)", "Exp. from Fig. 5(b) (40 mg/cm³)", "TROLL (20 mg/cm³)", "TROLL (40 mg/cm³)"], "range": ["#000000", "#aaaaaa", "#000000", "#000000", "#000000", "#aaaaaa"]},
          "legend": {"orient": "none", "legendX": 111, "legendY": -88, "title": null, "symbolType": "stroke", "symbolSize": 1600, "symbolStrokeWidth": 1, "clipHeight": 23, "rowPadding": 0, "padding": 9, "labelOffset": 2, "labelFont": "Liberation Sans", "labelFontSize": 13, "labelLimit": 400, "strokeColor": "black", "fillColor": "white",
            "encoding": {
              "labels": {"fill": {"condition": {"test": "indexof(datum.value, '40 mg') >= 0 && indexof(datum.value, 'Fig') < 0", "value": "#aaaaaa"}, "value": "black"}},
              "symbols": {
                "shape": {"condition": [
                  {"test": "indexof(datum.value, 'DMX') >= 0", "value": "M0.32,0A0.32,0.32,0,1,1,-0.32,0A0.32,0.32,0,1,1,0.32,0Z"},
                  {"test": "indexof(datum.value, 'Fig') >= 0", "value": "M-0.5,0.3L-0.1,-0.35L0.3,0.3Z M0.3,-0.22H0.85"},
                  {"test": "indexof(datum.value, 'TROLL') >= 0", "value": "M-1,-0.12H-0.75V0.12H-1Z M-0.55,-0.12H-0.3V0.12H-0.55Z M-0.1,-0.12H0.15V0.12H-0.1Z M0.35,-0.12H0.6V0.12H0.35Z M0.8,-0.12H1.05V0.12H0.8Z"}
                ], "value": "M-1,-0.1H1V0.1H-1Z"},
                "fill": {"condition": [
                  {"test": "indexof(datum.value, 'DMX') >= 0 || indexof(datum.value, 'Fig') >= 0", "value": "transparent"},
                  {"test": "indexof(datum.value, '40 mg') >= 0", "value": "#aaaaaa"}
                ], "value": "black"}
              }
            }}},
        "strokeDash": {"field": "s", "type": "nominal", "scale": {"domain": ["Exp. from VISAR & imager (20 mg/cm³)", "Exp. from VISAR & imager (40 mg/cm³)", "TROLL (20 mg/cm³)", "TROLL (40 mg/cm³)"], "range": [[1,0],[1,0],[5,4],[5,4]]}, "legend": null},
        "strokeWidth": {"field": "s", "type": "ordinal", "scale": {"domain": ["Exp. from VISAR & imager (20 mg/cm³)", "Exp. from VISAR & imager (40 mg/cm³)", "TROLL (20 mg/cm³)", "TROLL (40 mg/cm³)"], "range": [3.5, 4.5, 5, 5]}, "legend": null}
      }
    },
    {
      "data": {"values": [
        {"z":400,"lo":105.0,"hi":117.0},{"z":450,"lo":104.4,"hi":116.8},{"z":500,"lo":103.7,"hi":116.7},{"z":550,"lo":102.5,"hi":115.9},{"z":600,"lo":100.8,"hi":114.8},{"z":650,"lo":98.8,"hi":113.2},{"z":700,"lo":96.6,"hi":111.6},{"z":750,"lo":94.4,"hi":109.8},{"z":800,"lo":91.9,"hi":107.9},{"z":850,"lo":89.4,"hi":105.8},{"z":900,"lo":86.9,"hi":103.9},{"z":950,"lo":84.4,"hi":101.8},{"z":1000,"lo":81.9,"hi":99.9},{"z":1050,"lo":79.5,"hi":97.9},{"z":1100,"lo":77.0,"hi":96.0},{"z":1150,"lo":74.5,"hi":93.9},{"z":1200,"lo":72.0,"hi":92.0},{"z":1250,"lo":69.6,"hi":90.0},{"z":1300,"lo":67.1,"hi":88.1},
        {"z":450,"lo":101.3,"hi":113.7},{"z":500,"lo":97.5,"hi":110.5},{"z":550,"lo":94.3,"hi":107.7},{"z":600,"lo":90.5,"hi":104.5},{"z":650,"lo":86.3,"hi":100.7},{"z":700,"lo":81.5,"hi":96.5},{"z":750,"lo":76.3,"hi":91.7},{"z":800,"lo":71.5,"hi":87.5},{"z":850,"lo":66.8,"hi":83.2},{"z":900,"lo":62.0,"hi":79.0},{"z":950,"lo":57.8,"hi":75.2},{"z":1000,"lo":54.0,"hi":72.0},{"z":1050,"lo":50.3,"hi":68.7},{"z":1100,"lo":46.5,"hi":65.5},{"z":1150,"lo":42.8,"hi":62.2},{"z":1200,"lo":39.0,"hi":59.0},{"z":1250,"lo":35.8,"hi":56.2},{"z":1300,"lo":32.5,"hi":53.5},
        {"z":1603,"lo":53.8,"hi":66.2}
      ]},
      "mark": {"type": "errorbar", "ticks": {"size": 6}, "thickness": 1.2, "color": "#222222"},
      "encoding": {"y": {"field": "lo", "type": "quantitative", "scale": {"domain": [0, 140], "nice": false}, "axis": null}, "y2": {"field": "hi"}}
    },
    {
      "data": {"values": [{"z":115,"T":124.8},{"z":170,"T":105.5},{"z":388,"T":83.5},{"z":555,"T":79.8},{"z":690,"T":46.3},{"z":809,"T":31.6}]},
      "mark": {"type": "point", "shape": "triangle-up", "filled": false, "size": 200, "color": "black", "strokeWidth": 1, "opacity": 1},
      "encoding": {}
    },
    {
      "data": {"values": [{"z":1603,"T":60}]},
      "mark": {"type": "point", "shape": "circle", "filled": false, "size": 180, "color": "black", "strokeWidth": 1.2, "opacity": 1},
      "encoding": {
        "x": {"field": "z", "type": "quantitative", "scale": {"domain": [0, 1800], "nice": false},
          "axis": {"orient": "top", "values": [0,50,100,150,200,250,300,350,400,450,500,550,600,650,700,750,800,850,900,950,1000,1050,1100,1150,1200,1250,1300,1350,1400,1450,1500,1550,1600,1650,1700,1750,1800], "labels": false, "title": null, "tickSize": {"condition": {"test": "datum.value % 200 === 0", "value": -8}, "value": -4}}},
        "y": {"field": "T", "type": "quantitative", "scale": {"domain": [0, 140], "nice": false},
          "axis": {"orient": "right", "values": [0,5,10,15,20,25,30,35,40,45,50,55,60,65,70,75,80,85,90,95,100,105,110,115,120,125,130,135,140], "labels": false, "title": null, "tickSize": {"condition": {"test": "datum.value % 20 === 0", "value": -8}, "value": -4}}}
      }
    },
    {
      "data": {"values": [{"z":98,"T":41.1,"label":"µDMX threshold"}]},
      "mark": {"type": "text", "font": "Lato", "fontSize": 16, "color": "black", "align": "left", "baseline": "alphabetic"},
      "encoding": {"text": {"field": "label"}}
    },
    {
      "data": {"values": [{"z":184,"T":20.5,"label":"c)"}]},
      "mark": {"type": "text", "font": "Lato", "fontSize": 34, "color": "black", "align": "center", "baseline": "middle"},
      "encoding": {"text": {"field": "label"}}
    }
  ]
}
]
}
